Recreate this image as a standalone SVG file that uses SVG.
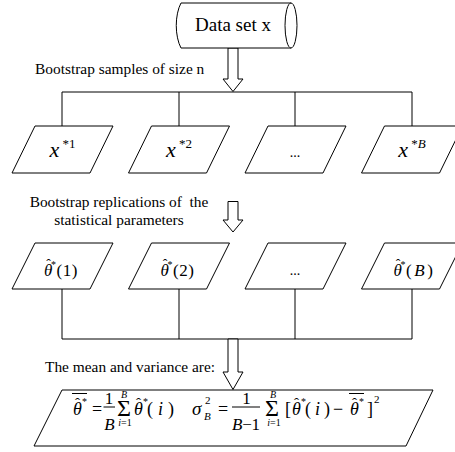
<svg xmlns="http://www.w3.org/2000/svg" width="455" height="452" viewBox="0 0 455 452" font-family="'Liberation Serif', 'DejaVu Serif', serif">
<style>
.s{fill:#fff;stroke:#000;stroke-width:1}
.l{fill:none;stroke:#000;stroke-width:1}
text{font-family:'Liberation Serif','DejaVu Serif',serif;fill:#000}
.t{font-size:15.4px}
.i{font-style:italic}
</style>
<rect x="0" y="0" width="455" height="452" fill="#fff"/>
<g id="connectors">
<polygon class="s" points="228,48 238,48 238,79 243,79 233,91.5 223,79 228,79"/>
<path class="l" d="M62,92H412M62,92V126M179,92V126M295,92V126M412,92V126"/>
<polygon class="s" points="228,201.5 238,201.5 238,220 243,220 233,232 223,220 228,220"/>
<path class="l" d="M62,289V339M179,289V339M295,289V339M412,289V339M62,339H412"/>
<polygon class="s" points="228,339 238,339 238,372 243,372 233,389.5 223,372 228,372"/>
</g>
<g id="dataset">
<path class="s" d="M181,3H291V48H181A14,30 0 0 1 181,3Z"/>
<ellipse class="s" cx="291" cy="25.5" rx="6" ry="22.5"/>
<text x="233" y="30.5" font-size="19" text-anchor="middle">Data set x</text>
</g>
<text class="t" x="35" y="73.5">Bootstrap samples of size n</text>
<g id="x1">
<polygon class="s" points="35,126 113,126 90,173 12,173"/>
<text x="62.5" y="157" text-anchor="middle"><tspan class="i" font-size="22">x</tspan><tspan font-size="13" dy="-9"> *1</tspan></text>
</g>
<g id="x2">
<polygon class="s" points="151.5,126 229.5,126 206.5,173 128.5,173"/>
<text x="179" y="157" text-anchor="middle"><tspan class="i" font-size="22">x</tspan><tspan font-size="13" dy="-9"> *2</tspan></text>
</g>
<g id="x3">
<polygon class="s" points="268,126 346,126 323,173 245,173"/>
<text x="295" y="157" text-anchor="middle" font-size="14">...</text>
</g>
<g id="xB">
<polygon class="s" points="384.5,126 462.5,126 439.5,173 361.5,173"/>
<text x="412" y="157" text-anchor="middle"><tspan class="i" font-size="22">x</tspan><tspan font-size="13" dy="-9"> *</tspan><tspan class="i" font-size="13">B</tspan></text>
</g>
<text class="t" x="119" y="207" text-anchor="middle" xml:space="preserve">Bootstrap replications of  the</text>
<text class="t" x="119" y="225" text-anchor="middle">statistical parameters</text>
<g id="t1">
<polygon class="s" points="35,243 113,243 90,289 12,289"/>
<text class="i" x="44" y="276" font-size="17">θ</text>
<text x="48.5" y="269" font-size="14" text-anchor="middle">ˆ</text>
<text x="51" y="268" font-size="10">*</text>
<text x="56.5" y="276" font-size="17" textLength="21" lengthAdjust="spacing">(1)</text>
</g>
<g id="t2">
<polygon class="s" points="151.5,243 229.5,243 206.5,289 128.5,289"/>
<text class="i" x="160.5" y="276" font-size="17">θ</text>
<text x="165" y="269" font-size="14" text-anchor="middle">ˆ</text>
<text x="167.5" y="268" font-size="10">*</text>
<text x="173" y="276" font-size="17" textLength="21" lengthAdjust="spacing">(2)</text>
</g>
<g id="t3">
<polygon class="s" points="268,243 346,243 323,289 245,289"/>
<text x="295" y="275" text-anchor="middle" font-size="14">...</text>
</g>
<g id="tB">
<polygon class="s" points="384.5,243 462.5,243 439.5,289 361.5,289"/>
<text class="i" x="393.5" y="276" font-size="17">θ</text>
<text x="398" y="269" font-size="14" text-anchor="middle">ˆ</text>
<text x="400.5" y="268" font-size="10">*</text>
<text x="406" y="276" font-size="17" textLength="27" lengthAdjust="spacing">(<tspan class="i">B</tspan>)</text>
</g>
<text class="t" x="45" y="372">The mean and variance are:</text>
<g id="result">
<polygon class="s" points="62,390 433,390 406,446 34,446"/>
<text class="i" x="73" y="415" font-size="18">θ</text>
<text x="77.5" y="408" font-size="15" text-anchor="middle">ˆ</text>
<text x="82" y="405" font-size="10">*</text>
<line class="l" x1="72" y1="393.5" x2="87" y2="393.5"/>
<text x="92" y="415" font-size="18">=</text>
<text x="109" y="403.5" font-size="17" text-anchor="middle">1</text>
<line class="l" x1="103.5" y1="407" x2="115" y2="407"/>
<text class="i" x="109.5" y="430" font-size="17" text-anchor="middle">B</text>
<text x="117" y="416" font-size="24">Σ</text>
<text class="i" x="124" y="398" font-size="10" text-anchor="middle">B</text>
<text x="125" y="426" font-size="10" text-anchor="middle"><tspan class="i">i</tspan>=1</text>
<text class="i" x="134" y="415" font-size="18">θ</text>
<text x="138.5" y="408" font-size="15" text-anchor="middle">ˆ</text>
<text x="143" y="405" font-size="10">*</text>
<text x="147" y="415" font-size="18" textLength="27" lengthAdjust="spacing">(<tspan class="i">i</tspan>)</text>
<text class="i" x="192" y="415" font-size="19">σ</text>
<text class="i" x="204" y="420" font-size="11">B</text>
<text x="205" y="404" font-size="11">2</text>
<text x="218" y="415" font-size="18">=</text>
<text x="246.5" y="403.5" font-size="17" text-anchor="middle">1</text>
<line class="l" x1="232" y1="407" x2="260" y2="407"/>
<text x="232" y="430" font-size="17" textLength="28" lengthAdjust="spacing"><tspan class="i">B</tspan>−1</text>
<text x="265" y="416" font-size="24">Σ</text>
<text class="i" x="273" y="398" font-size="10" text-anchor="middle">B</text>
<text x="274" y="426" font-size="10" text-anchor="middle"><tspan class="i">i</tspan>=1</text>
<text x="285" y="415" font-size="18">[</text>
<text class="i" x="292" y="415" font-size="18">θ</text>
<text x="296.5" y="408" font-size="15" text-anchor="middle">ˆ</text>
<text x="301" y="405" font-size="10">*</text>
<text x="305" y="415" font-size="18" textLength="25" lengthAdjust="spacing">(<tspan class="i">i</tspan>)</text>
<text x="333" y="415" font-size="18">−</text>
<text class="i" x="350" y="415" font-size="18">θ</text>
<text x="354.5" y="408" font-size="15" text-anchor="middle">ˆ</text>
<text x="359" y="405" font-size="10">*</text>
<line class="l" x1="349" y1="393.5" x2="364" y2="393.5"/>
<text x="367" y="415" font-size="18">]</text>
<text x="374" y="403" font-size="11">2</text>
</g>
</svg>
